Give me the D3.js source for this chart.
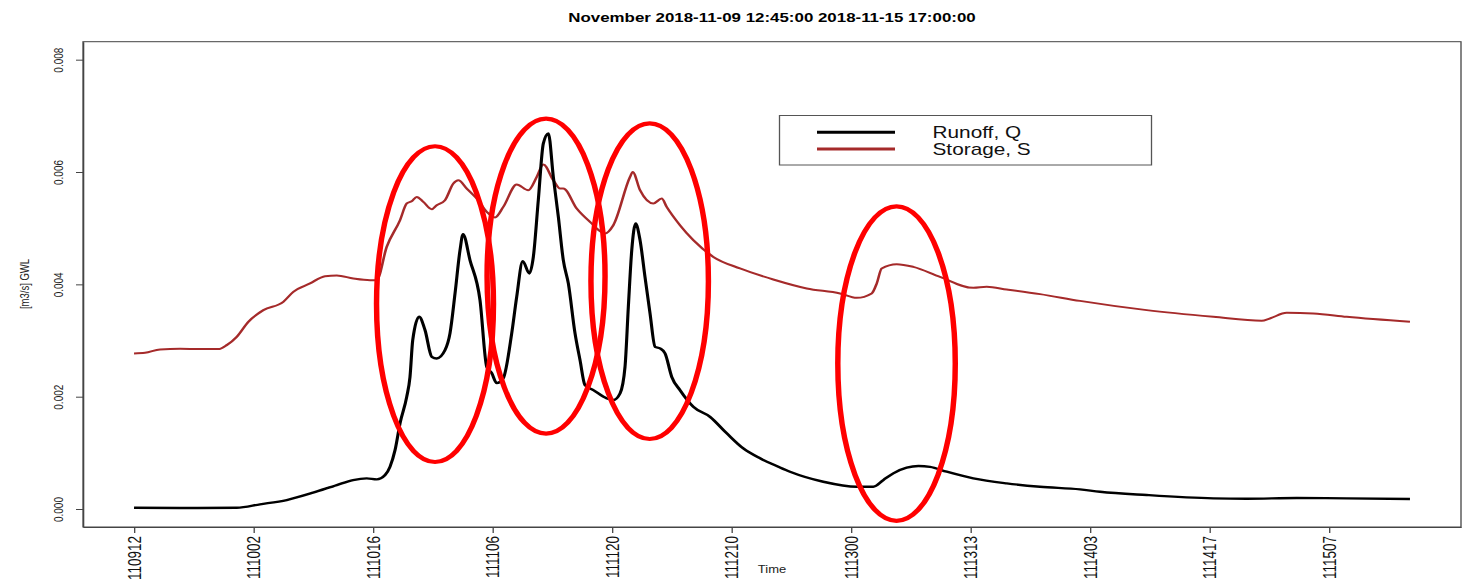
<!DOCTYPE html>
<html>
<head>
<meta charset="utf-8">
<script src="https://cdn.jsdelivr.net/npm/d3@7"></script>
<style>
  html, body { margin: 0; padding: 0; background: #fff; }
  svg { display: block; font-family: "Liberation Sans", Arial, sans-serif; }
</style>
</head>
<body>
<svg id="chart"></svg>
<script>
// Hours since 2018-11-09 12:45 and values for each series
const runoffHours = [0, 5.39, 12.03, 14.76, 17.89, 20.97, 23.75, 25.66, 27.26, 28.43, 29.41, 29.99, 30.58, 31.17, 31.95, 32.33, 32.65, 33.39, 34.09, 34.88, 35.46, 36.43, 37.02, 37.61, 38.19, 38.54, 39.36, 40.53, 41.32, 41.9, 42.49, 43.26, 44.25, 44.83, 45.54, 46.31, 46.78, 47.36, 47.95, 48.54, 49.12, 49.71, 50.29, 50.88, 51.66, 52.25, 52.83, 53.81, 55.38, 56.15, 56.94, 57.52, 57.91, 58.31, 58.77, 59.28, 59.86, 60.45, 61.04, 61.62, 62.21, 62.99, 63.96, 65.52, 67.48, 69.44, 71.38, 73.34, 75.48, 76.85, 80.75, 84.67, 86.61, 87.78, 88.95, 90.52, 91.9, 93.25, 95.21, 98.33, 102.24, 106.14, 110.82, 113.17, 118.64, 126.44, 130.36, 136.21, 142.07, 149.48];
const runoffQ = [0.000023, 0.000018, 0.000023, 0.000084, 0.00016, 0.00029, 0.000427, 0.000516, 0.000546, 0.000528, 0.000605, 0.000753, 0.00105, 0.00153, 0.0020, 0.002354, 0.003007, 0.003422, 0.003185, 0.00271, 0.002681, 0.002829, 0.003132, 0.003843, 0.004609, 0.004893, 0.004431, 0.003719, 0.002532, 0.00242, 0.002242, 0.002331, 0.003132, 0.003778, 0.004413, 0.004194, 0.004489, 0.005498, 0.006507, 0.006685, 0.005913, 0.005201, 0.004431, 0.004016, 0.003132, 0.002651, 0.002206, 0.002117, 0.00197, 0.00194, 0.002059, 0.002532, 0.0036, 0.004609, 0.005084, 0.004786, 0.004134, 0.003482, 0.002888, 0.00286, 0.00277, 0.002354, 0.002117, 0.00182, 0.001642, 0.001347, 0.001078, 0.000902, 0.000753, 0.000664, 0.000486, 0.000397, 0.000397, 0.000516, 0.000635, 0.000735, 0.000765, 0.00075, 0.000664, 0.000546, 0.000457, 0.000397, 0.00035, 0.000308, 0.000249, 0.00019, 0.000183, 0.000196, 0.00019, 0.000178];

const storageHours = [0, 1.29, 3.05, 5.39, 7.73, 9.88, 10.86, 12.03, 13.39, 15.15, 17.49, 18.66, 20.62, 22.38, 23.75, 25.69, 27.65, 28.43, 29.6, 31.16, 31.95, 32.53, 33.12, 33.89, 34.88, 35.46, 36.43, 37.41, 37.99, 38.98, 40.15, 41.32, 42.29, 43.26, 44.83, 46.19, 47.18, 47.95, 49.12, 49.91, 50.29, 51.86, 53.42, 55.18, 56.15, 58.11, 58.42, 59.28, 60.84, 61.82, 62.4, 63.96, 65.52, 67.87, 70.99, 74.89, 78.81, 82.71, 84.67, 86.42, 87.01, 87.59, 89.35, 91.3, 94.42, 98.33, 99.89, 102.24, 106.14, 110.82, 118.64, 126.44, 132.11, 133.08, 135.04, 138.16, 142.07, 149.48];
const storageS = [0.00277, 0.002781, 0.002842, 0.002852, 0.002847, 0.002847, 0.002918, 0.003066, 0.003333, 0.003541, 0.003689, 0.003867, 0.004016, 0.004146, 0.004158, 0.004105, 0.004075, 0.004075, 0.004667, 0.005142, 0.00544, 0.00548, 0.005557, 0.005468, 0.005338, 0.005409, 0.005498, 0.005795, 0.005854, 0.005706, 0.005528, 0.00529, 0.00519, 0.005379, 0.005778, 0.005676, 0.005913, 0.006133, 0.005854, 0.005706, 0.005706, 0.00535, 0.005112, 0.004906, 0.005053, 0.005913, 0.006002, 0.005676, 0.00544, 0.005528, 0.005379, 0.005053, 0.004787, 0.004489, 0.004283, 0.004087, 0.003927, 0.003838, 0.00376, 0.003838, 0.004016, 0.004283, 0.00436, 0.004311, 0.004133, 0.003938, 0.003956, 0.003909, 0.003826, 0.003706, 0.003541, 0.003422, 0.003351, 0.003393, 0.003493, 0.003482, 0.003422, 0.003333];

// Time axis ticks (every 14 hours) and their labels
const tickHours = [0, 14, 28, 42, 56, 70, 84, 98, 112, 126, 140];
const tickLabels = ["110912", "111002", "111016", "111106", "111120", "111210", "111300", "111313", "111403", "111417", "111507"];
const yTicks = [0, 0.002, 0.004, 0.006, 0.008];

// Highlighted event windows: centre hour, centre value, half-width (h), half-height
const eventHours = [35.26, 48.27, 60.41, 89.33];
const eventValues = [0.003648, 0.004146, 0.004057, 0.002589];
const eventHalfHours = [6.85, 6.91, 6.88, 6.88];
const eventHalfValues = [0.002811, 0.002803, 0.00281, 0.0028];

const seriesNames = ["Runoff, Q", "Storage, S"];
const seriesColors = ["#000000", "#A52A2A"];

// Drawing is done in a horizontally compressed frame, then stretched to the page
const SX = 1.3;
const W = 1465, H = 586;
const plotLeft = 83, plotRight = 1461, plotTop = 41.7, plotBottom = 527;

const svg = d3.select("#chart")
  .attr("width", W).attr("height", H)
  .attr("viewBox", `0 0 ${W / SX} ${H}`)
  .attr("preserveAspectRatio", "none");

const xMax = d3.max(runoffHours);
const x = d3.scaleLinear()
  .domain([-0.04 * xMax, 1.04 * xMax])
  .range([plotLeft / SX, plotRight / SX]);
const y = d3.scaleLinear()
  .domain([-0.00032, 0.00832])
  .range([plotBottom, plotTop]);

// Title
svg.append("text")
  .attr("x", 772 / SX).attr("y", 22)
  .attr("text-anchor", "middle")
  .attr("font-size", 13).attr("font-weight", "bold")
  .text("November 2018-11-09 12:45:00 2018-11-15 17:00:00");

// Plot frame
svg.append("rect")
  .attr("x", plotLeft / SX).attr("y", plotTop)
  .attr("width", (plotRight - plotLeft) / SX).attr("height", plotBottom - plotTop)
  .attr("fill", "none").attr("stroke", "#444").attr("stroke-width", 1);

// Y axis
const yAxis = svg.append("g")
  .attr("transform", `translate(${plotLeft / SX},0)`)
  .call(d3.axisLeft(y).tickValues(yTicks).tickFormat(d3.format(".3f")).tickSize(7 / SX).tickSizeOuter(0));
yAxis.select(".domain").attr("stroke", "#444");
yAxis.selectAll(".tick line").attr("stroke", "#444");
yAxis.selectAll(".tick text")
  .attr("x", 0).attr("y", 0).attr("dy", "0.35em")
  .attr("text-anchor", "middle")
  .attr("transform", `translate(${(58 - plotLeft) / SX},0) rotate(-90)`)
  .attr("font-size", 10).attr("fill", "#222")
  .attr("font-family", "'Liberation Sans', Arial, sans-serif");

svg.append("text")
  .attr("transform", `translate(${25 / SX},284) rotate(-90)`)
  .attr("dy", "0.35em")
  .attr("text-anchor", "middle")
  .attr("font-size", 9.5).attr("fill", "#222")
  .text("[m3/s] GWL");

// X axis
const xAxis = svg.append("g")
  .attr("transform", `translate(0,${plotBottom})`)
  .call(d3.axisBottom(x).tickValues(tickHours).tickFormat((d, i) => tickLabels[i]).tickSize(6).tickSizeOuter(0));
xAxis.select(".domain").attr("stroke", "#444");
xAxis.selectAll(".tick line").attr("stroke", "#444");
xAxis.selectAll(".tick text")
  .attr("x", 0).attr("y", 0).attr("dy", "0.35em")
  .attr("text-anchor", "end")
  .attr("transform", "translate(0,9) rotate(-90)")
  .attr("font-size", 13.5).attr("fill", "#111")
  .attr("font-family", "'Liberation Sans', Arial, sans-serif");

svg.append("text")
  .attr("x", 772 / SX).attr("y", 573)
  .attr("text-anchor", "middle")
  .attr("font-size", 10).attr("fill", "#222")
  .text("Time");

// Series lines
const line = d3.line()
  .x(d => x(d[0]))
  .y(d => y(d[1]))
  .curve(d3.curveMonotoneX);

svg.append("path")
  .datum(storageHours.map((h, i) => [h, storageS[i]]))
  .attr("fill", "none")
  .attr("stroke", seriesColors[1])
  .attr("stroke-width", 2)
  .attr("stroke-linejoin", "round")
  .attr("d", line);

svg.append("path")
  .datum(runoffHours.map((h, i) => [h, runoffQ[i]]))
  .attr("fill", "none")
  .attr("stroke", seriesColors[0])
  .attr("stroke-width", 2.4)
  .attr("stroke-linejoin", "round")
  .attr("d", line);

// Event highlights
svg.selectAll("ellipse.event")
  .data(eventHours.map((h, i) => ({ h, v: eventValues[i], dh: eventHalfHours[i], dv: eventHalfValues[i] })))
  .join("ellipse")
  .attr("class", "event")
  .attr("cx", d => x(d.h))
  .attr("cy", d => y(d.v))
  .attr("rx", d => x(d.h + d.dh) - x(d.h))
  .attr("ry", d => y(d.v - d.dv) - y(d.v))
  .attr("fill", "none")
  .attr("stroke", "#ff0000")
  .attr("stroke-width", 4.2);

// Legend
const legend = svg.append("g");
legend.append("rect")
  .attr("x", 779.5 / SX).attr("y", 115.5)
  .attr("width", (1151.5 - 779.5) / SX).attr("height", 49.5)
  .attr("fill", "#fff").attr("stroke", "#555").attr("stroke-width", 1);
seriesNames.forEach((name, i) => {
  const ly = 132.3 + i * 16.7;
  legend.append("line")
    .attr("x1", 817 / SX).attr("x2", 895 / SX)
    .attr("y1", ly).attr("y2", ly)
    .attr("stroke", seriesColors[i]).attr("stroke-width", 3);
  legend.append("text")
    .attr("x", 932.5 / SX).attr("y", ly + 5.8)
    .attr("font-size", 16).attr("fill", "#111")
    .text(name);
});
</script>
</body>
</html>
